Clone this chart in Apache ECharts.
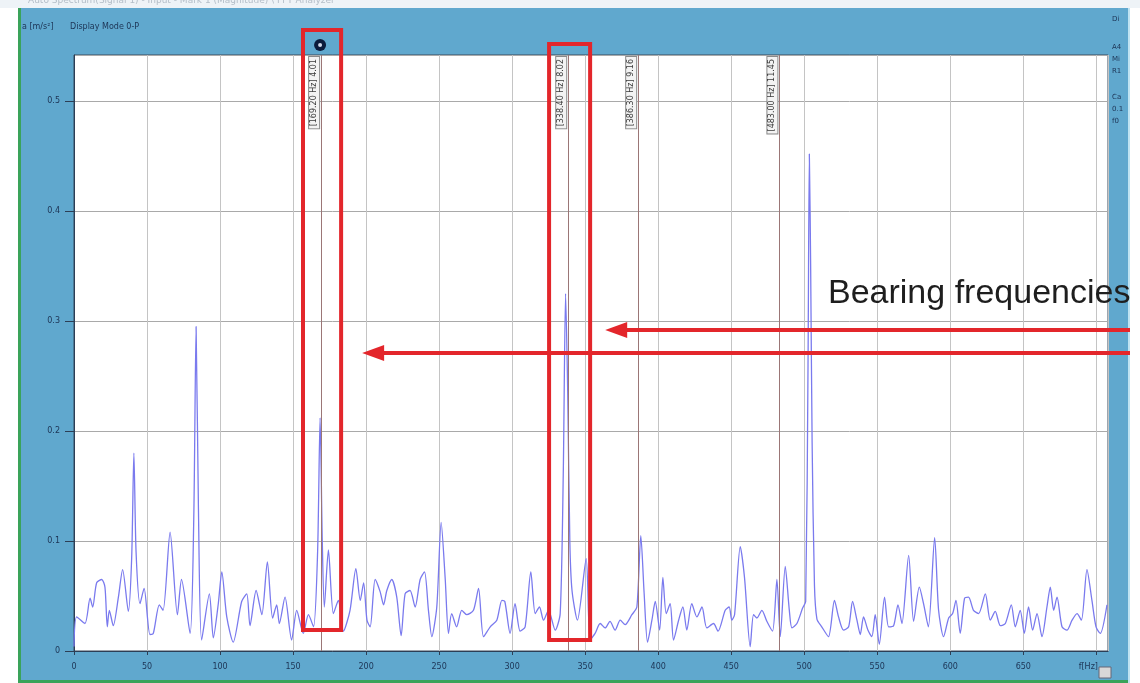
<!DOCTYPE html>
<html><head><meta charset="utf-8">
<script src="https://cdn.jsdelivr.net/npm/echarts@6/dist/echarts.min.js"></script>
<style>html,body{margin:0;padding:0;background:#fff;}#c{width:1140px;height:683px;}</style>
</head><body><div id="c"></div>
<script>
// ---- data ----
const freqHz = [0,1.8,7.5,11,12.8,15.5,19,21.2,22.8,24.2,26.9,30.4,33.3,37.2,39.5,41,42.5,45.2,48,52,54.3,58.4,61,65.8,70.8,73.6,79.5,82,83.6,85.2,87.4,92.7,95.4,98.8,101.2,104.6,109,114.8,118.3,120.5,124.7,128.6,132.4,136,138.8,140.6,144.5,149,152.5,157,160.5,164,166.8,168.5,170,171.4,174.2,177.6,181,184.5,189,193,196,198.3,200.6,202.8,206.2,209.6,212,214.2,217.6,221,224,226.7,230.1,233.6,237,240,242.7,245,248.4,251.4,254.2,256.4,258.6,262,265.5,268.9,273.5,277,280.4,285,289.5,293,295,298.6,302,305.5,308.9,312.8,315.8,318.7,321.5,324.9,329.5,332.9,335,336.6,338,339.5,341,344.7,350.7,353.4,356.8,360.3,363.7,367,370.5,374,377.4,382,385.4,388.1,390.4,392.7,395.7,398,401,403.2,405.5,408.2,410.5,414,416.9,419.6,423,426.5,430,433.3,437.9,441,445.9,448.6,450.4,452.3,456.2,459.1,463,465.3,467.6,471,474.4,478.3,481.3,483.6,487,489.8,491.6,495,498.9,501,502.6,503.5,504.4,505.4,507,508.7,512,516.6,520.7,523.5,526.9,530.4,533.1,536.1,538.4,540.6,543.6,546.3,548.6,551.4,555,557.8,561.2,564.2,566.9,571.5,574.9,578.8,581.7,585,589.3,592,595.4,598.9,601.6,603.9,606.8,609.8,612.5,615.9,619.4,624,627.4,630.8,634.3,637.7,641.8,644.5,647.9,650.7,653.6,656.4,659.4,662.8,666.2,668.5,670.8,673.1,676.5,679.9,683.4,686.8,689.8,693.6,697,699.8,702.7,707.3];
const amplitude = [0.004,0.031,0.025,0.048,0.040,0.062,0.065,0.058,0.022,0.037,0.023,0.049,0.074,0.036,0.085,0.18,0.09,0.043,0.057,0.015,0.016,0.042,0.037,0.108,0.033,0.065,0.016,0.12,0.295,0.13,0.010,0.052,0.012,0.043,0.072,0.031,0.008,0.045,0.052,0.023,0.055,0.033,0.081,0.030,0.042,0.025,0.049,0.010,0.037,0.016,0.033,0.022,0.09,0.212,0.10,0.040,0.092,0.034,0.046,0.018,0.037,0.075,0.046,0.062,0.028,0.022,0.065,0.054,0.042,0.055,0.065,0.049,0.014,0.052,0.055,0.040,0.065,0.072,0.037,0.013,0.040,0.117,0.065,0.016,0.034,0.022,0.037,0.033,0.037,0.057,0.013,0.022,0.028,0.046,0.045,0.016,0.043,0.018,0.022,0.072,0.034,0.040,0.028,0.037,0.019,0.034,0.16,0.325,0.24,0.10,0.055,0.028,0.084,0.010,0.016,0.025,0.021,0.027,0.019,0.028,0.024,0.033,0.040,0.105,0.052,0.008,0.028,0.045,0.019,0.067,0.034,0.043,0.010,0.028,0.040,0.019,0.043,0.031,0.040,0.021,0.025,0.018,0.037,0.040,0.028,0.033,0.095,0.067,0.004,0.033,0.030,0.037,0.027,0.018,0.065,0.013,0.077,0.037,0.021,0.025,0.039,0.045,0.26,0.452,0.35,0.19,0.06,0.029,0.022,0.013,0.046,0.031,0.019,0.022,0.045,0.028,0.015,0.031,0.019,0.013,0.033,0.006,0.049,0.022,0.023,0.042,0.025,0.087,0.027,0.058,0.043,0.022,0.103,0.037,0.013,0.030,0.034,0.046,0.016,0.048,0.049,0.037,0.034,0.052,0.028,0.036,0.023,0.025,0.042,0.022,0.037,0.016,0.040,0.019,0.034,0.013,0.040,0.058,0.037,0.049,0.022,0.019,0.028,0.034,0.028,0.074,0.046,0.022,0.016,0.042];
const markerFreqs = [169.2, 338.4, 386.3, 483.0];
const markerLabels = ['[169.20 Hz] 4.01', '[338.40 Hz] 8.02', '[386.30 Hz] 9.16', '[483.00 Hz] 11.45'];
const boxRanges = [[156.8, 182.9, 0.019], [325.3, 353.4, 0.010]];   // [fromHz, toHz, bottom amplitude]
const arrowTips = [[363.7, 0.292], [197.3, 0.271]];                 // [Hz, amplitude]
const cursorHz = 168.5;
const annotation = 'Bearing frequencies';
const yUnit = 'a [m/s²]';
const displayMode = 'Display Mode 0-P';
const xName = 'f[Hz]';

const chart = echarts.init(document.getElementById('c'), null, {renderer: 'canvas'});
const lineData = freqHz.map((f, i) => [f, amplitude[i]]);
const labelColor = '#1c3354';

chart.setOption({
  animation: false,
  backgroundColor: '#ffffff',
  grid: {left: 74, top: 55, right: 32, bottom: 32, show: true, backgroundColor: '#ffffff', borderColor: '#3b4a5c', borderWidth: 1},
  xAxis: {
    type: 'value', min: 0, max: 708, interval: 50,
    axisLine: {show: true, lineStyle: {color: '#2c3e55', width: 1}},
    axisTick: {show: true, length: 4, lineStyle: {color: '#2c3e55'}},
    axisLabel: {color: labelColor, fontSize: 8, fontFamily: 'DejaVu Sans', margin: 12, showMaxLabel: false,
      formatter: v => (v === 700 ? '{n|' + xName + '}' : String(v)),
      rich: {n: {color: labelColor, fontSize: 8, fontFamily: 'DejaVu Sans', padding: [0, 16, 0, 0]}}},
    splitLine: {show: true, lineStyle: {color: '#c4c4c4', width: 1}}
  },
  yAxis: {
    type: 'value', min: 0, max: 0.542, interval: 0.1,
    axisLine: {show: true, lineStyle: {color: '#2c3e55', width: 1}},
    axisTick: {show: true, length: 9, lineStyle: {color: '#2c3e55'}},
    axisLabel: {color: labelColor, fontSize: 8, fontFamily: 'DejaVu Sans', margin: 14, showMaxLabel: false,
      formatter: v => (v === 0 ? '0' : v.toFixed(1))},
    splitLine: {show: true, lineStyle: {color: '#a9a9a9', width: 1}}
  },
  series: [{
    type: 'line', data: lineData, showSymbol: false, smooth: 0.25,
    lineStyle: {color: '#7a7aee', width: 1.3},
    z: 3,
    markLine: {
      symbol: 'none', silent: true, animation: false,
      lineStyle: {color: '#9b7676', width: 1, type: 'solid'},
      label: {show: true, position: 'insideEndTop', formatter: p => p.name, fontSize: 8, fontFamily: 'DejaVu Sans',
        color: '#3a3a3a', backgroundColor: '#f3f3f3', borderColor: '#8a8a8a', borderWidth: 1, padding: [1, 2], distance: 2},
      data: markerFreqs.map((f, i) => ({xAxis: f, name: markerLabels[i]}))
    }
  }]
});

function px(x, y) { return chart.convertToPixel({gridIndex: 0}, [x, y]); }

const red = '#e3262b';
const g = [];
// window background
g.push({type: 'rect', z: -100, shape: {x: 20, y: 8, width: 1110, height: 675}, style: {fill: '#60a8ce'}});
g.push({type: 'rect', z: -99, shape: {x: 0, y: 0, width: 1140, height: 8}, style: {fill: '#eef3f7'}});
g.push({type: 'text', z: -98, style: {x: 28, y: -4, text: 'Auto Spectrum(Signal 1) - Input - Mark 1 (Magnitude) \\ FFT Analyzer', fill: '#b4bec8', fontSize: 9, fontFamily: 'DejaVu Sans'}});
g.push({type: 'rect', z: -98, shape: {x: 18, y: 8, width: 3, height: 675}, style: {fill: '#3aa35a'}});
g.push({type: 'rect', z: -98, shape: {x: 18, y: 680, width: 1112, height: 3}, style: {fill: '#3aa35a'}});
g.push({type: 'rect', z: -98, shape: {x: 1128, y: 8, width: 2, height: 675}, style: {fill: '#bfe3f2'}});
g.push({type: 'text', z: 10, style: {x: 22, y: 23, text: yUnit, fill: '#1c3354', fontSize: 8, fontFamily: 'DejaVu Sans'}});
g.push({type: 'text', z: 10, style: {x: 70, y: 23, text: displayMode, fill: '#1c3354', fontSize: 8, fontFamily: 'DejaVu Sans'}});
[['Di', 16], ['A4', 44], ['Mi', 56], ['R1', 68], ['Ca', 94], ['0.1', 106], ['f0', 118]].forEach(t => {
  g.push({type: 'text', z: 10, style: {x: 1112, y: t[1], text: t[0], fill: '#1c3354', fontSize: 7, fontFamily: 'DejaVu Sans'}});
});
g.push({type: 'rect', z: 10, shape: {x: 1099, y: 667, width: 12, height: 11}, style: {fill: '#d8d8d8', stroke: '#667', lineWidth: 1}});
// cursor dot
const cp = px(cursorHz, 0);
g.push({type: 'circle', z: 20, shape: {cx: cp[0], cy: 45, r: 6}, style: {fill: '#0b1b3b'}});
g.push({type: 'circle', z: 21, shape: {cx: cp[0], cy: 45, r: 2}, style: {fill: '#cfd8e8'}});
// red boxes
boxRanges.forEach((b, i) => {
  const a = px(b[0], b[2]), c = px(b[1], b[2]);
  const top = i === 0 ? 30 : 44;
  g.push({type: 'rect', z: 50, shape: {x: a[0], y: top, width: c[0] - a[0], height: a[1] - top},
    style: {fill: 'none', stroke: red, lineWidth: 4}});
});
// arrows
arrowTips.forEach(t => {
  const p = px(t[0], t[1]);
  g.push({type: 'line', z: 50, shape: {x1: p[0] + 18, y1: p[1], x2: 1130, y2: p[1]}, style: {stroke: red, lineWidth: 4}});
  g.push({type: 'polygon', z: 51, shape: {points: [[p[0], p[1]], [p[0] + 22, p[1] - 8], [p[0] + 22, p[1] + 8]]}, style: {fill: red}});
});
// annotation text
g.push({type: 'text', z: 60, style: {x: 828, y: 294, text: annotation, fill: '#1e1e1e', fontSize: 34, fontFamily: 'Liberation Sans', verticalAlign: 'middle'}});

chart.setOption({graphic: {elements: g}});
</script>
</body></html>
